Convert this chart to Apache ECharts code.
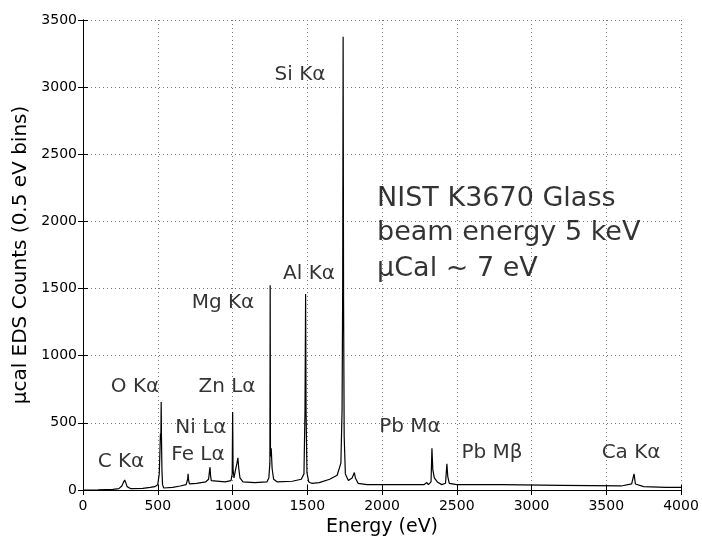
<!DOCTYPE html>
<html>
<head>
<meta charset="utf-8">
<script src="https://cdn.jsdelivr.net/npm/echarts@6/dist/echarts.min.js"></script>
<style>
  html, body { margin: 0; padding: 0; background: #fff; }
  #main { width: 702px; height: 539px; }
</style>
</head>
<body>
<div id="main"></div>
<script>
// spectrum: energy (eV) and counts
var energy = [0, 100, 200, 240, 260, 270, 279, 286, 295, 320, 400, 450, 480, 500, 510, 515, 518, 521, 523, 525, 528, 532, 540,
  600, 650, 690, 700, 703, 706, 712, 760, 820, 840, 846, 850, 853, 858, 870, 950, 990, 998, 1001, 1004, 1010, 1020, 1030, 1036, 1042, 1050, 1070,
  1150, 1230, 1243, 1250, 1252, 1254, 1259, 1265, 1275, 1300, 1400, 1460, 1478, 1485, 1489, 1492, 1498, 1510, 1530, 1580, 1650, 1700,
  1725, 1733, 1737, 1740, 1743, 1747, 1755, 1775, 1800, 1815, 1822, 1840, 1900, 2100, 2280, 2300, 2310, 2328, 2334, 2340, 2350, 2370,
  2400, 2425, 2434, 2440, 2450, 2500, 2800, 3200, 3600, 3670, 3686, 3695, 3750, 3900, 4000];
var counts = [0, 2, 5, 10, 30, 55, 75, 55, 25, 10, 12, 20, 25, 40, 120, 300, 420, 400, 655, 380, 150, 40, 15,
  20, 30, 40, 80, 120, 75, 45, 50, 60, 80, 140, 170, 110, 70, 60, 60, 70, 120, 580, 150, 90, 150, 200, 240, 160, 90, 60,
  55, 60, 90, 200, 1525, 250, 310, 160, 80, 60, 65, 80, 120, 600, 1460, 600, 130, 60, 50, 55, 80, 110,
  200, 600, 1500, 3375, 1400, 400, 120, 70, 90, 130, 90, 50, 40, 40, 40, 55, 40, 60, 310, 150, 90, 60,
  40, 50, 195, 100, 50, 40, 40, 35, 30, 45, 120, 45, 25, 20, 20];

// peak labels and where they sit (data units)
var peakNames = ['Si K\u03b1', 'Al K\u03b1', 'Mg K\u03b1', 'O K\u03b1', 'Zn L\u03b1', 'Ni L\u03b1', 'Fe L\u03b1', 'C K\u03b1', 'Pb M\u03b1', 'Pb M\u03b2', 'Ca K\u03b1'];
var peakLabelX = [1452, 1512, 936, 348, 963, 789, 769, 254, 2187, 2736, 3666];
var peakLabelY = [3090, 1608, 1392, 767, 767, 462, 261, 208, 469, 276, 276];

var noteLines = ['NIST K3670 Glass', 'beam energy 5 keV', '\u00b5Cal ~ 7 eV'];
var noteX = 1967;
var noteY = [2167, 1914, 1646];

var spectrum = energy.map(function (e, i) { return [e, counts[i]]; });
var peakData = peakNames.map(function (n, i) { return [peakLabelX[i], peakLabelY[i], n]; });
var noteData = noteLines.map(function (n, i) { return [noteX, noteY[i], n]; });

var font = '"DejaVu Sans", Arial, Helvetica, sans-serif';
var chart = echarts.init(document.getElementById('main'));

var gridLine = { show: true, lineStyle: { color: '#777', type: [1, 3], width: 1 } };
var tickLabel = { color: '#000', fontSize: 14, fontFamily: font, formatter: function (v) { return String(v); } };

var baseAxis = {
  type: 'value',
  min: 0,
  axisLine: { show: true, lineStyle: { color: '#000', width: 1 } },
  axisTick: { show: true, inside: true, length: 5, lineStyle: { color: '#000' } },
  splitLine: { show: false }
};

var option = {
  animation: false,
  backgroundColor: '#fff',
  grid: { left: 83, right: 21, top: 20, bottom: 49, containLabel: false, outerBoundsMode: 'none' },
  xAxis: [
    Object.assign({}, baseAxis, {
      max: 4000, interval: 500, position: 'bottom',
      name: 'Energy (eV)', nameLocation: 'middle', nameGap: 24,
      nameTextStyle: { color: '#000', fontSize: 19, fontFamily: font },
      axisLabel: Object.assign({ margin: 9 }, tickLabel),
      splitLine: gridLine
    }),
    Object.assign({}, baseAxis, {
      max: 4000, interval: 500, position: 'top', axisLabel: { show: false }
    })
  ],
  yAxis: [
    Object.assign({}, baseAxis, {
      max: 3500, interval: 500, position: 'left',
      name: '\u00b5cal EDS Counts (0.5 eV bins)', nameLocation: 'middle', nameGap: 51,
      nameTextStyle: { color: '#000', fontSize: 20, fontFamily: font },
      axisLabel: Object.assign({ margin: 6 }, tickLabel),
      splitLine: gridLine
    }),
    Object.assign({}, baseAxis, {
      max: 3500, interval: 500, position: 'right', axisLabel: { show: false }
    })
  ],
  series: [
    {
      type: 'line',
      data: spectrum,
      showSymbol: false,
      lineStyle: { color: '#000', width: 1.2 },
      silent: true,
      z: 3
    },
    {
      type: 'scatter',
      data: peakData,
      symbolSize: 0,
      silent: true,
      label: {
        show: true, position: 'inside', color: '#000', fontSize: 20, fontFamily: font,
        formatter: function (p) { return p.data[2]; }
      }
    },
    {
      type: 'scatter',
      data: noteData,
      symbolSize: 0,
      silent: true,
      label: {
        show: true, position: 'inside', align: 'left', color: '#000', fontSize: 27, fontFamily: font,
        formatter: function (p) { return p.data[2]; }
      }
    }
  ]
};

chart.setOption(option);
</script>
</body>
</html>
